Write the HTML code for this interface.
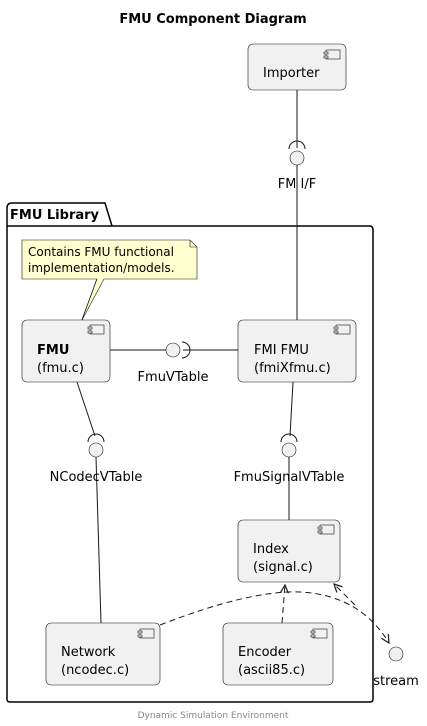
<!DOCTYPE html>
<html><head><meta charset="utf-8"><style>body{margin:0;background:#fff}svg{display:block}text{font-family:"DejaVu Sans","Liberation Sans",sans-serif}</style></head><body>
<svg width="427" height="726" viewBox="0 0 427 726" xmlns="http://www.w3.org/2000/svg">
<defs><marker id="a" markerWidth="10" markerHeight="10" refX="9" refY="5" orient="auto" markerUnits="userSpaceOnUse"><path d="M1,1 L9,5 L1,9" fill="none" stroke="#181818" stroke-width="1.2"/></marker></defs>
<text x="213" y="23" text-anchor="middle" font-size="13" font-weight="bold" fill="#000">FMU Component Diagram</text>
<!-- package -->
<path d="M7,226 L7,208 Q7,203 12,203 L105,203 L112,226 L370,226 Q373,226 373,230 L373,699 Q373,702 370,702 L10,702 Q7,702 7,699 Z" fill="none" stroke="#000" stroke-width="1.5"/>
<line x1="7" y1="226" x2="112" y2="226" stroke="#000" stroke-width="1.5"/>
<text x="10" y="219" font-size="13" font-weight="bold">FMU Library</text>
<!-- lines -->
<g stroke="#181818" stroke-width="1" fill="none">
<line x1="297" y1="90" x2="297" y2="148"/>
<path d="M289,149 A8,8 0 0 1 305,149"/>
<line x1="297" y1="165" x2="297" y2="320"/>
<line x1="110" y1="350" x2="166" y2="350"/>
<path d="M182,342 A8,8 0 0 1 182,358"/>
<line x1="183" y1="350" x2="238" y2="350"/>
<line x1="77" y1="382" x2="95" y2="436"/>
<path d="M88,442 A8,8 0 0 1 104,442"/>
<line x1="96" y1="457" x2="101" y2="623"/>
<line x1="293" y1="382" x2="290" y2="436"/>
<path d="M281,442 A8,8 0 0 1 297,442"/>
<line x1="289" y1="457" x2="289" y2="520"/>
<line x1="82" y1="320" x2="97" y2="279"/>
</g>
<g fill="#f1f1f1" stroke="#181818" stroke-width="0.6">
<circle cx="297" cy="158" r="7"/><circle cx="173" cy="350" r="7"/><circle cx="96" cy="450" r="7"/><circle cx="289" cy="450" r="7"/><circle cx="396" cy="654" r="7"/>
</g>
<!-- note -->
<path d="M22,240 L190,240 L197,247 L197,279 L104,279 L82,320 L97,279 L22,279 Z" fill="#fefece" stroke="#181818" stroke-width="0.6"/>
<path d="M190,240 L190,247 L197,247" fill="none" stroke="#181818" stroke-width="0.6"/>
<text x="28" y="256" font-size="12">Contains FMU functional</text>
<text x="28" y="272" font-size="12">implementation/models.</text>
<!-- boxes -->
<g fill="#f1f1f1" stroke="#181818" stroke-width="0.6">
<rect x="248" y="44" width="98" height="46" rx="5"/>
<rect x="22" y="320" width="88" height="62" rx="5"/>
<rect x="238" y="320" width="118" height="62" rx="5"/>
<rect x="238" y="520" width="102" height="62" rx="5"/>
<rect x="46" y="623" width="114" height="62" rx="5"/>
<rect x="223" y="623" width="110" height="62" rx="5"/>
</g>
<g fill="#f1f1f1" stroke="#181818" stroke-width="0.6">
<rect x="326" y="50" width="14" height="9"/><rect x="324" y="52" width="4" height="2"/><rect x="324" y="56" width="4" height="2"/>
<rect x="90" y="325" width="14" height="9"/><rect x="88" y="327" width="4" height="2"/><rect x="88" y="331" width="4" height="2"/>
<rect x="336" y="325" width="14" height="9"/><rect x="334" y="327" width="4" height="2"/><rect x="334" y="331" width="4" height="2"/>
<rect x="320" y="525" width="14" height="9"/><rect x="318" y="527" width="4" height="2"/><rect x="318" y="531" width="4" height="2"/>
<rect x="140" y="629" width="14" height="9"/><rect x="138" y="631" width="4" height="2"/><rect x="138" y="635" width="4" height="2"/>
<rect x="313" y="629" width="14" height="9"/><rect x="311" y="631" width="4" height="2"/><rect x="311" y="635" width="4" height="2"/>
</g>
<g font-size="13" fill="#000">
<text x="263" y="77">Importer</text>
<text x="37" y="354" font-weight="bold">FMU</text><text x="37" y="372">(fmu.c)</text>
<text x="254" y="354">FMI FMU</text><text x="254" y="372">(fmiXfmu.c)</text>
<text x="253" y="553">Index</text><text x="253" y="571">(signal.c)</text>
<text x="61" y="656">Network</text><text x="61" y="674">(ncodec.c)</text>
<text x="238" y="656">Encoder</text><text x="238" y="674">(ascii85.c)</text>
<text x="297" y="188" text-anchor="middle">FM I/F</text>
<text x="173" y="381" text-anchor="middle">FmuVTable</text>
<text x="96" y="481" text-anchor="middle">NCodecVTable</text>
<text x="289" y="481" text-anchor="middle">FmuSignalVTable</text>
<text x="396" y="685" text-anchor="middle">stream</text>
</g>
<rect x="295" y="175" width="4" height="15" fill="#fff"/>
<line x1="297" y1="170" x2="297" y2="195" stroke="#181818"/>
<!-- dashed -->
<g stroke="#181818" stroke-width="1" fill="none" stroke-dasharray="6,4">
<path d="M160,625 Q250,590 300,592 Q360,595 389,643" marker-end="url(#a)"/>
<line x1="282" y1="623" x2="285" y2="585" marker-end="url(#a)"/>
<line x1="355" y1="605" x2="334" y2="584" marker-end="url(#a)"/>
</g>
<text x="213" y="718" text-anchor="middle" font-size="9" fill="#888">Dynamic Simulation Environment</text>
</svg>
</body></html>
